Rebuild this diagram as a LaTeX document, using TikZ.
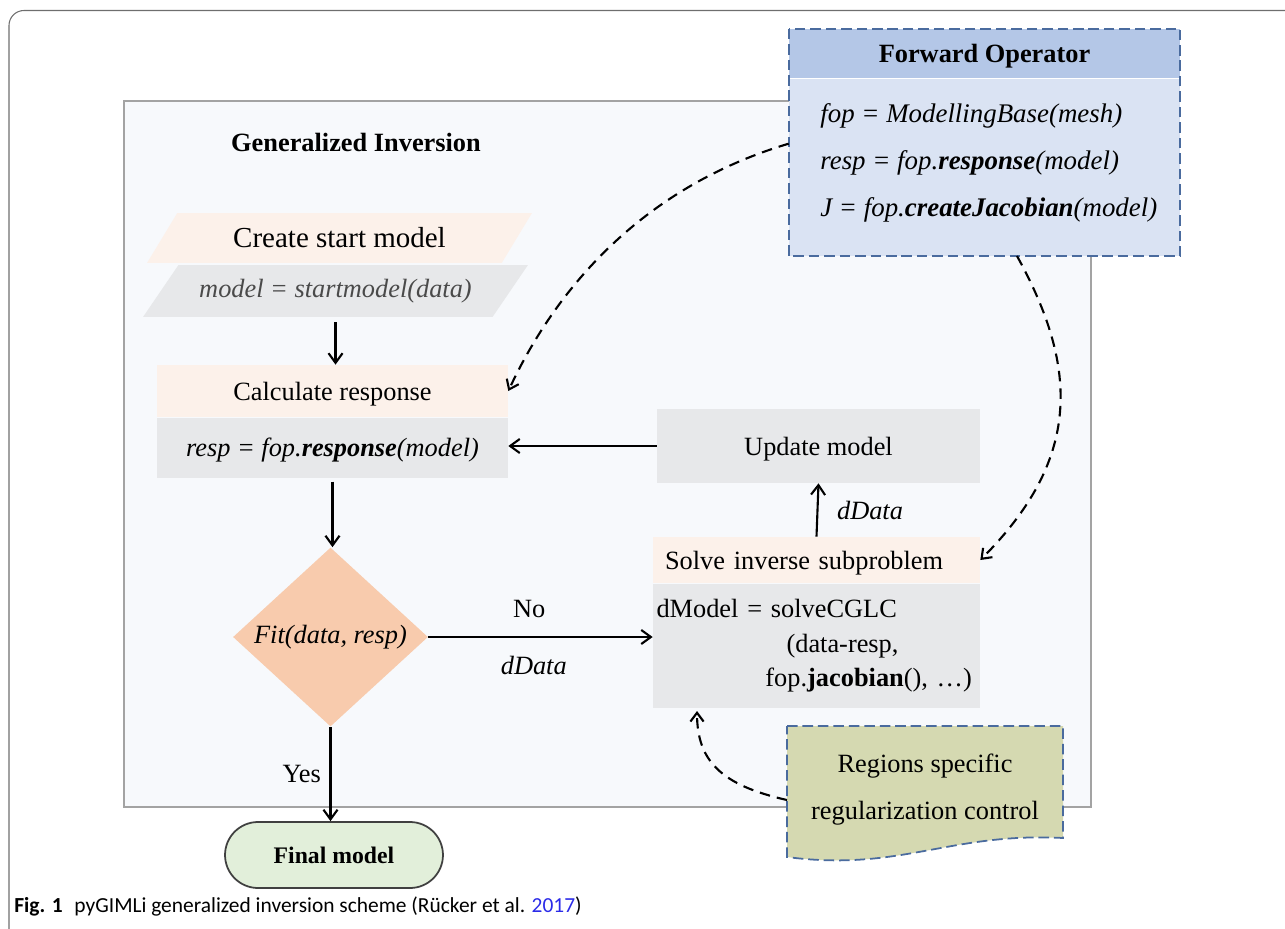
\documentclass[tikz,border=0pt]{standalone}
\usepackage{fontspec}
\setmainfont{Liberation Serif}
\newfontfamily\capfont{Carlito}
\usetikzlibrary{shapes.misc, shapes.geometric, arrows.meta, positioning, calc}
\definecolor{framegray}{HTML}{6E6E6E}
\definecolor{panelbg}{HTML}{F7F9FC}
\definecolor{panelline}{HTML}{A3A3A3}
\definecolor{peachlt}{HTML}{FCF1EA}
\definecolor{greybox}{HTML}{E7E8EA}
\definecolor{codegrey}{HTML}{4A4A4A}
\definecolor{fopheadfill}{HTML}{B4C7E7}
\definecolor{fopbodyfill}{HTML}{DAE3F3}
\definecolor{dashblue}{HTML}{4A6B9E}
\definecolor{decisionfill}{HTML}{F8CBAD}
\definecolor{finalfill}{HTML}{E2EFDA}
\definecolor{olivefill}{HTML}{D5D9B1}
\definecolor{linkblue}{HTML}{2B2BE8}
\newcommand{\fsnorm}{\fontsize{15}{18}\selectfont}
\newcommand{\fsbig}{\fontsize{16.5}{20}\selectfont}
\tikzset{
  panel/.style={draw=panelline,line width=0.8pt,fill=panelbg,inner sep=0},
  headbox/.style={rectangle,fill=peachlt,inner sep=0,text depth=0pt,font=\fsnorm},
  codebox/.style={rectangle,fill=greybox,inner sep=0,font=\fsnorm},
  slantbox/.style={trapezium,trapezium left angle=34,trapezium right angle=146,
    trapezium stretches body,inner sep=0},
  fophead/.style={rectangle,fill=fopheadfill,inner sep=0,text depth=0pt,font=\fsnorm\bfseries},
  fopbody/.style={rectangle,fill=fopbodyfill,inner sep=0},
  fopframe/.style={draw=dashblue,line width=1pt,dash pattern=on 6pt off 2.8pt},
  decision/.style={diamond,fill=decisionfill,inner sep=0,font=\fsnorm\itshape},
  terminal/.style={rounded rectangle,draw=black!75,line width=1pt,fill=finalfill,
    inner sep=0,font=\fontsize{13.5}{16}\selectfont\bfseries},
  flow/.style={line width=1.2pt,-{Straight Barb[length=5.5pt,width=8pt]}},
  feed/.style={line width=1.2pt,dash pattern=on 6pt off 4pt,
    -{Straight Barb[length=5pt,width=7.5pt]}},
  lbl/.style={font=\fsnorm,inner sep=2pt},
}
\begin{document}
\begin{tikzpicture}[x=0.02cm,y=-0.02cm]
  \useasboundingbox (0,0) rectangle (1285,929);
  % figure frame
  \draw[framegray,line width=0.6pt,rounded corners=0.3cm] (9,929) -- (9,10.5) -- (1285,10.5);
  % inversion panel
  \node[panel,minimum width=19.34cm,minimum height=14.12cm] (inv) at (607.5,454) {};
  \node[font=\fsnorm\bfseries] (invtitle) at (356,142) {Generalized Inversion};

  % forward operator
  \node[fophead,minimum width=7.82cm,minimum height=0.98cm] (fophead) at (984.5,53.5) {Forward Operator};
  \node[fopbody,minimum width=7.82cm,minimum height=3.54cm,below=0pt of fophead] (fopbody) {};
  \draw[fopframe] (fophead.north west) rectangle (fopbody.south east);
  \node[font=\fontsize{15.3}{26.7}\selectfont\itshape,align=left,inner sep=0,anchor=west]
    (fopcode) at (820,163) {fop = ModellingBase(mesh)\\
    resp = fop.\textbf{response}(model)\\
    J = fop.\textbf{createJacobian}(model)};

  % start model
  \node[slantbox,fill=peachlt,minimum width=7.7cm,minimum height=1.0cm,font=\fsbig]
    (starthead) at (339.5,238) {Create start model};
  \node[slantbox,fill=greybox,minimum width=7.7cm,minimum height=1.04cm,font=\fsnorm\itshape,text=codegrey]
    (startcode) at (335.5,291) {model = startmodel(data)};

  % response
  \node[headbox,minimum width=7.02cm,minimum height=1.04cm] (calchead) at (332.5,391) {Calculate response};
  \node[codebox,minimum width=7.02cm,minimum height=1.2cm,below=0pt of calchead,text depth=0pt,
    font=\fsnorm\itshape] (calcbody) {resp = fop.\textbf{response}(model)};

  % update and inverse subproblem
  \node[codebox,minimum width=6.46cm,minimum height=1.48cm,text depth=0pt] (update) at (818.5,446) {Update model};
  \node[headbox,minimum width=6.54cm,minimum height=0.92cm,text width=6.06cm,align=left]
    (solvehead) at (816.5,560) {Solve inverse subproblem};
  \node[codebox,minimum width=6.54cm,minimum height=2.48cm,text width=6.4cm,align=left,
    below=0pt of solvehead,font=\fontsize{15}{19.6}\selectfont]
    (solvebody) {dModel = solveCGLC\\\hspace*{74pt}(data-resp,\\\hspace*{62pt}fop.\textbf{jacobian}(), …)};

  % decision and end
  \node[decision,minimum width=3.9cm,minimum height=3.58cm] (fit) at (330.5,637) {Fit(data, resp)};
  \node[terminal,minimum width=4.36cm,minimum height=1.32cm] (final) at (334,855) {Final model};

  % regularization note
  \fill[olivefill] (787,726) -- (1063,726) -- (1063,838)
    .. controls (950,832) and (900,872) .. (787,857) -- cycle;
  \draw[fopframe] (787,726) -- (1063,726) -- (1063,838)
    .. controls (950,832) and (900,872) .. (787,857) -- cycle;
  \node[font=\fontsize{15}{26.7}\selectfont,align=center,inner sep=0] (regions) at (925,790)
    {Regions specific\\regularization control};

  % flow
  \draw[flow,shorten <=0.1cm] (startcode.south) -- (startcode.south |- calchead.north);
  \draw[flow,shorten <=2pt] (calcbody.south) -- (calcbody.south |- fit.north);
  \draw[flow] (update.west) -- (update.west -| calcbody.east);
  \draw[flow] (solvehead.north) -- node[lbl,right=0.3cm,font=\fsnorm\itshape] (ddup) {dData} (update.south);
  \draw[flow] (fit.east) -- node[lbl,pos=0.45,above=0.3cm] (nolbl) {No}
    node[lbl,pos=0.47,below=0.3cm,font=\fsnorm\itshape] (ddright) {dData} (fit.east -| solvebody.west);
  \draw[flow] (fit.south) -- node[lbl,left=0.1cm] (yeslbl) {Yes} (fit.south |- final.north);

  % forward operator links
  \draw[feed] ([yshift=0.47cm]fopbody.west) .. controls (650,185) and (560,280) .. (calchead.east);
  \draw[feed] ([xshift=0.65cm]fopbody.south) .. controls (1080,370) and (1080,460) .. (solvehead.east);
  \draw[feed] (787,800) .. controls (720,785) and (697,760) .. ([xshift=-2.39cm,yshift=-0.06cm]solvebody.south);

  % caption
  \node[anchor=base west,inner sep=0,font=\capfont\fontsize{12.2}{14}\selectfont] (caption) at (14,912)
    {\textbf{Fig. 1}\hspace{0.55em}pyGIMLi generalized inversion scheme (Rücker et al. \textcolor{linkblue}{2017})};
\end{tikzpicture}
\end{document}
